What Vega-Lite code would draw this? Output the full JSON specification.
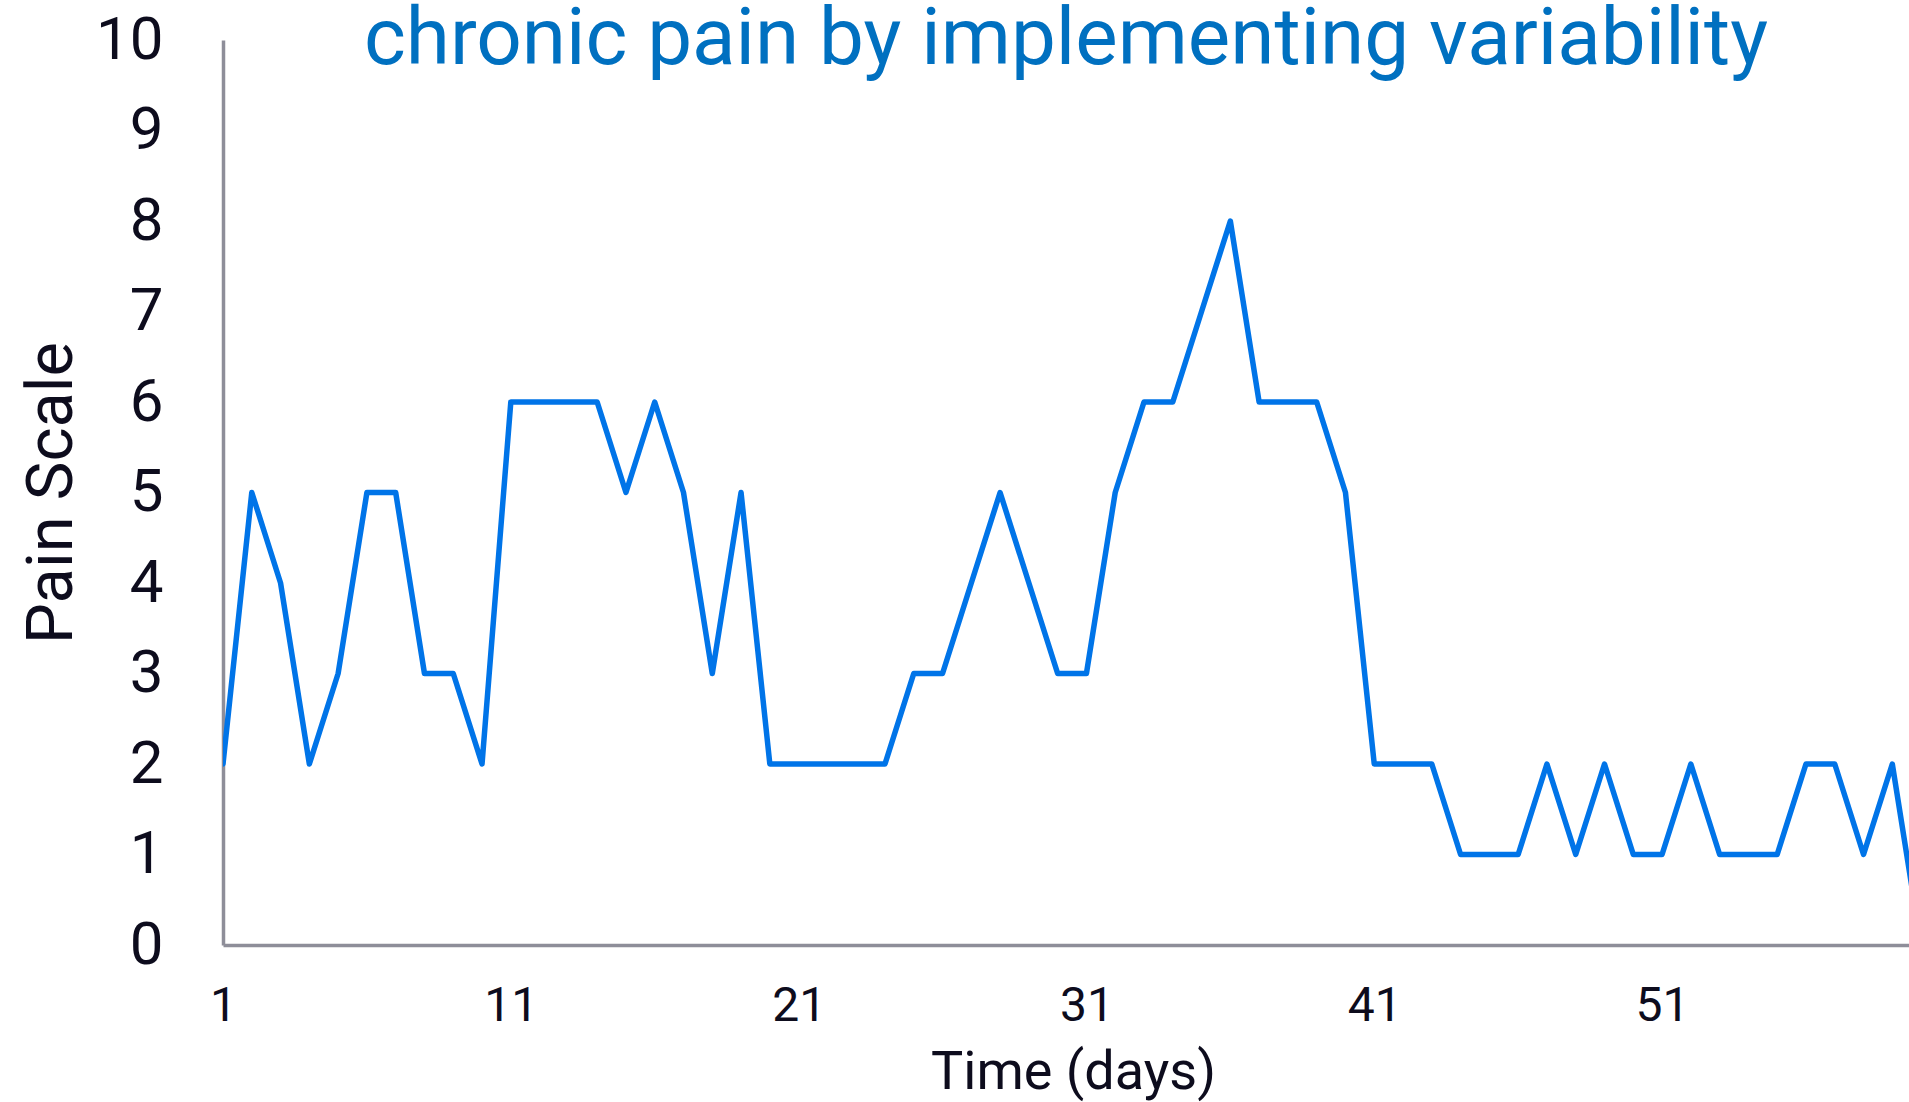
{
  "$schema": "https://vega.github.io/schema/vega-lite/v6.json",
  "width": 1686,
  "height": 905,
  "autosize": {"type": "none"},
  "padding": {"left": 223, "top": 40, "right": 0, "bottom": 157},
  "background": "white",
  "config": {
    "font": "Roboto",
    "view": {"stroke": null},
    "axis": {"grid": false, "ticks": false, "domainColor": "#8e8e99", "domainWidth": 3.5, "labelColor": "#0d0c1d", "titleColor": "#0d0c1d", "labelFont": "Roboto", "titleFont": "Roboto", "titleFontWeight": "normal"}
  },
  "title": {
    "text": "chronic pain by implementing variability",
    "fontSize": 80,
    "fontWeight": "normal",
    "color": "#0070c0",
    "anchor": "middle",
    "frame": "group",
    "baseline": "alphabetic",
    "offset": 0,
    "dy": 134
  },
  "data": {
    "values": [
      {"day": 1, "pain": 2}, {"day": 2, "pain": 5}, {"day": 3, "pain": 4}, {"day": 4, "pain": 2},
      {"day": 5, "pain": 3}, {"day": 6, "pain": 5}, {"day": 7, "pain": 5}, {"day": 8, "pain": 3},
      {"day": 9, "pain": 3}, {"day": 10, "pain": 2}, {"day": 11, "pain": 6}, {"day": 12, "pain": 6},
      {"day": 13, "pain": 6}, {"day": 14, "pain": 6}, {"day": 15, "pain": 5}, {"day": 16, "pain": 6},
      {"day": 17, "pain": 5}, {"day": 18, "pain": 3}, {"day": 19, "pain": 5}, {"day": 20, "pain": 2},
      {"day": 21, "pain": 2}, {"day": 22, "pain": 2}, {"day": 23, "pain": 2}, {"day": 24, "pain": 2},
      {"day": 25, "pain": 3}, {"day": 26, "pain": 3}, {"day": 27, "pain": 4}, {"day": 28, "pain": 5},
      {"day": 29, "pain": 4}, {"day": 30, "pain": 3}, {"day": 31, "pain": 3}, {"day": 32, "pain": 5},
      {"day": 33, "pain": 6}, {"day": 34, "pain": 6}, {"day": 35, "pain": 7}, {"day": 36, "pain": 8},
      {"day": 37, "pain": 6}, {"day": 38, "pain": 6}, {"day": 39, "pain": 6}, {"day": 40, "pain": 5},
      {"day": 41, "pain": 2}, {"day": 42, "pain": 2}, {"day": 43, "pain": 2}, {"day": 44, "pain": 1},
      {"day": 45, "pain": 1}, {"day": 46, "pain": 1}, {"day": 47, "pain": 2}, {"day": 48, "pain": 1},
      {"day": 49, "pain": 2}, {"day": 50, "pain": 1}, {"day": 51, "pain": 1}, {"day": 52, "pain": 2},
      {"day": 53, "pain": 1}, {"day": 54, "pain": 1}, {"day": 55, "pain": 1}, {"day": 56, "pain": 2},
      {"day": 57, "pain": 2}, {"day": 58, "pain": 1}, {"day": 59, "pain": 2}, {"day": 60, "pain": 0}
    ]
  },
  "mark": {"type": "line", "color": "#0074e8", "strokeWidth": 5.5, "strokeJoin": "round", "strokeCap": "round", "clip": true},
  "encoding": {
    "x": {
      "field": "day", "type": "quantitative",
      "scale": {"domain": [1, 59.58], "nice": false, "zero": false},
      "axis": {"values": [1, 11, 21, 31, 41, 51], "title": "Time (days)", "labelFontSize": 48, "titleFontSize": 54, "labelPadding": 37, "titlePadding": 15, "titleX": 850, "labelFlush": false}
    },
    "y": {
      "field": "pain", "type": "quantitative",
      "scale": {"domain": [0, 10], "nice": false},
      "axis": {"values": [0, 1, 2, 3, 4, 5, 6, 7, 8, 9, 10], "title": "Pain Scale", "labelFontSize": 60, "titleFontSize": 65, "labelPadding": 60, "titlePadding": 10, "labelFlush": false}
    }
  }
}
